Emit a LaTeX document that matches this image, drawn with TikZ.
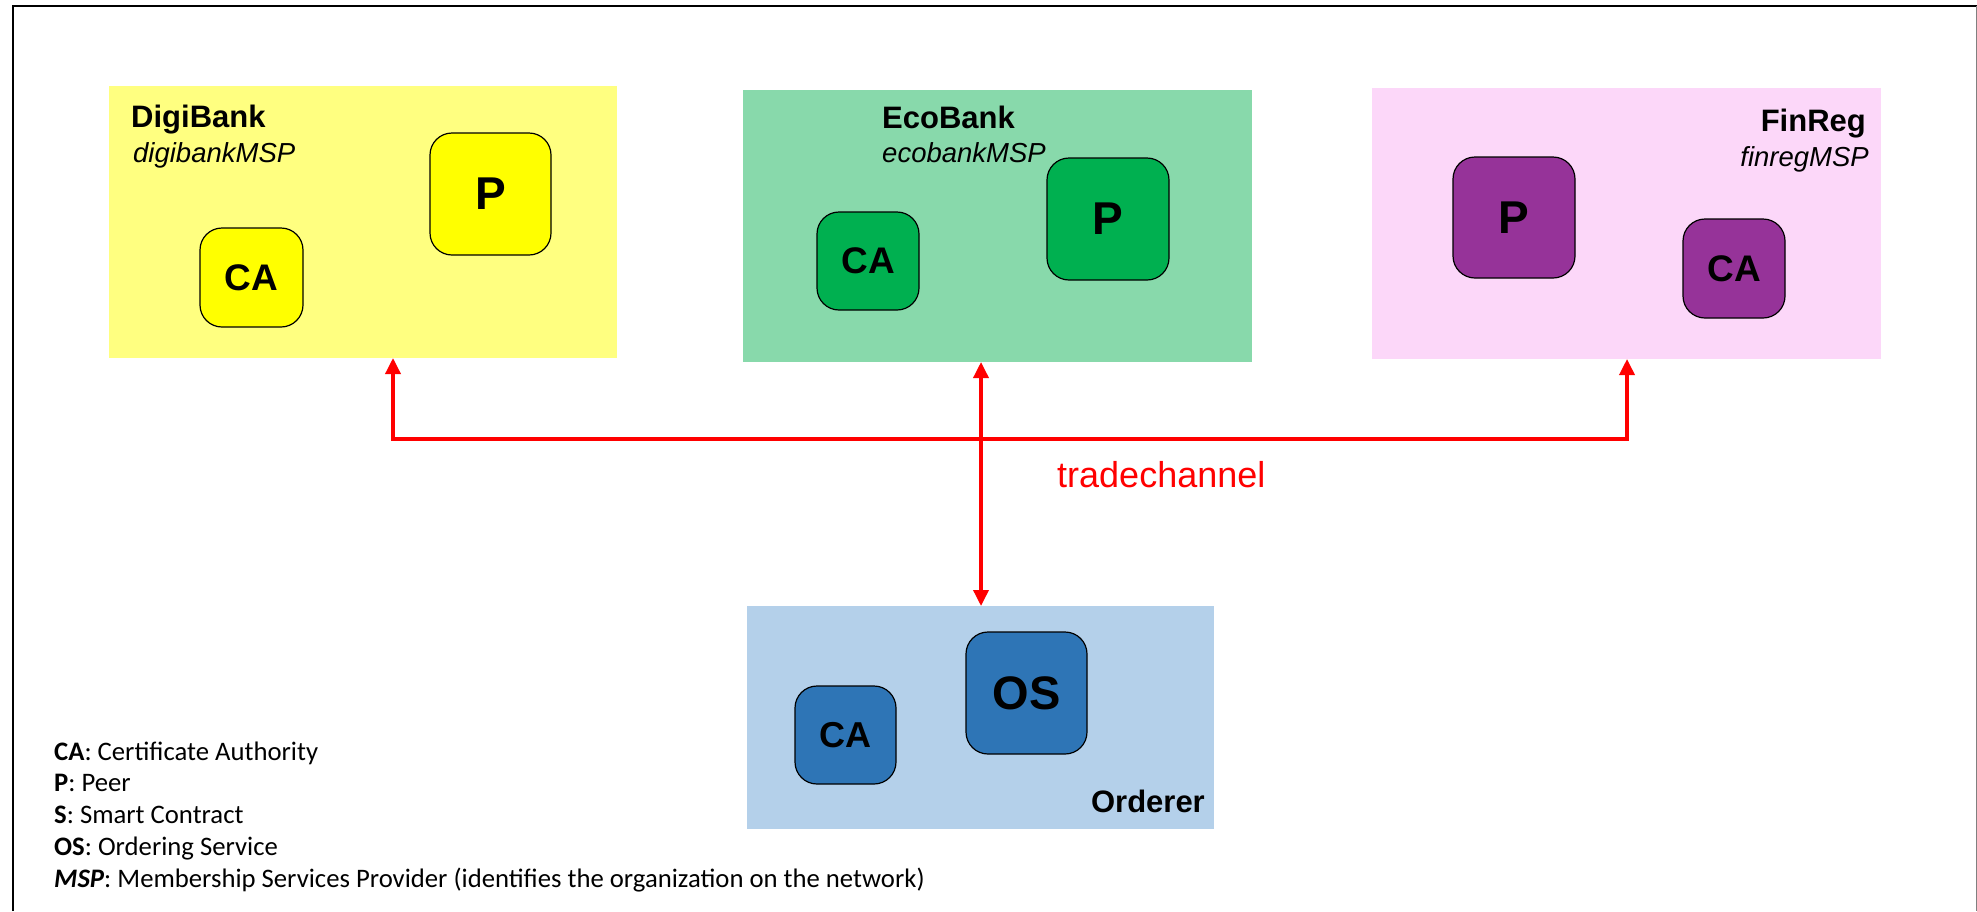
\documentclass[tikz,border=0pt]{standalone}
\usepackage{fontspec}
\setmainfont{Liberation Sans}
\newfontfamily\legfont{Carlito}
\usetikzlibrary{arrows.meta}
\definecolor{digiL}{HTML}{FFFF80}
\definecolor{digiD}{HTML}{FFFF00}
\definecolor{ecoL}{HTML}{88D9AB}
\definecolor{ecoD}{HTML}{00B050}
\definecolor{finL}{HTML}{FCD7F9}
\definecolor{finD}{HTML}{963399}
\definecolor{ordL}{HTML}{B4D0EA}
\definecolor{ordD}{HTML}{2E75B6}
\definecolor{chanred}{HTML}{FF0000}
\tikzset{
  org/.style={inner sep=0pt, outer sep=0pt, anchor=north west},
  dev/.style={draw=black, line width=1.2pt, rounded corners=22pt, inner sep=0pt, align=center, font=\fontsize{37}{42}\selectfont\bfseries},
  bigdev/.style={dev, font=\fontsize{46}{52}\selectfont\bfseries},
  orgname/.style={inner sep=0pt, font=\fontsize{31}{36}\selectfont\bfseries},
  mspname/.style={inner sep=0pt, font=\fontsize{27.5}{33}\selectfont\itshape},
  chan/.style={draw=chanred, line width=3.5pt, arrows={Triangle[length=16pt,width=15pt]-Triangle[length=16pt,width=15pt]}},
  legend/.style={inner sep=0pt, anchor=base west, font=\legfont\fontsize{26.7}{31}\selectfont}
}
\begin{document}
\begin{tikzpicture}[x=1pt,y=-1pt]
\useasboundingbox (0,0) rectangle (1977,911);
\fill[white] (0,0) rectangle (1977,911);
% outer frame
\draw[line width=2.5pt] (13,911) -- (13,6) -- (1977,6);
\draw[gray, line width=1pt] (1976,6) -- (1976,911);

% DigiBank
\node[org, fill=digiL, minimum width=508pt, minimum height=272pt] (digi) at (109,86) {};
\node[orgname, anchor=base west] (digiN) at (131,127) {DigiBank};
\node[mspname, anchor=base west] (digiM) at (133,162) {digibankMSP};
\node[dev, fill=digiD, minimum width=103pt, minimum height=99pt] (digiCA) at (251.5,277.5) {CA};
\node[bigdev, fill=digiD, minimum width=121pt, minimum height=122pt] (digiP) at (490.5,194) {P};

% EcoBank
\node[org, fill=ecoL, minimum width=509pt, minimum height=272pt] (eco) at (743,90) {};
\node[orgname, anchor=base west] (ecoN) at (882,128) {EcoBank};
\node[mspname, anchor=base west] (ecoM) at (882,162) {ecobankMSP};
\node[dev, fill=ecoD, minimum width=102pt, minimum height=98pt] (ecoCA) at (868,261) {CA};
\node[bigdev, fill=ecoD, minimum width=122pt, minimum height=122pt] (ecoP) at (1108,219) {P};

% FinReg
\node[org, fill=finL, minimum width=509pt, minimum height=271pt] (fin) at (1372,88) {};
\node[orgname, anchor=base east] (finN) at (1866,131) {FinReg};
\node[mspname, anchor=base east] (finM) at (1869,166) {finregMSP};
\node[bigdev, fill=finD, minimum width=122pt, minimum height=121pt] (finP) at (1514,217.5) {P};
\node[dev, fill=finD, minimum width=102pt, minimum height=99pt] (finCA) at (1734,268.5) {CA};

% Orderer
\node[org, fill=ordL, minimum width=467pt, minimum height=223pt] (ord) at (747,606) {};
\node[orgname, anchor=base east] (ordN) at (1205,812) {Orderer};
\node[dev, fill=ordD, minimum width=101pt, minimum height=98pt, font=\fontsize{36}{41}\selectfont\bfseries] (ordCA) at (845.5,735) {CA};
\node[bigdev, fill=ordD, minimum width=121pt, minimum height=122pt, font=\fontsize{47}{53}\selectfont\bfseries] (ordOS) at (1026.5,693) {OS};

% channel
\coordinate (jl) at (393,439);
\coordinate (jr) at (1627,439);
\coordinate (jm) at (981,439);
\draw[chan] (digi.south -| jl) -- (jl) -- (jr) -- (fin.south -| jr);
\draw[chan] (eco.south -| jm) -- (ord.north -| jm);
\node[inner sep=0pt, anchor=base west, text=chanred, font=\fontsize{36}{42}\selectfont] (chanN) at (1057,487) {tradechannel};

% legend
\node[legend] (l1) at (54,760) {\textbf{CA}: Certificate Authority};
\node[legend] (l2) at (54,791.5) {\textbf{P}: Peer};
\node[legend] (l3) at (54,823) {\textbf{S}: Smart Contract};
\node[legend] (l4) at (54,855) {\textbf{OS}: Ordering Service};
\node[legend] (l5) at (54,887) {\textbf{\textit{MSP}}: Membership Services Provider (identifies the organization on the network)};
\end{tikzpicture}
\end{document}
